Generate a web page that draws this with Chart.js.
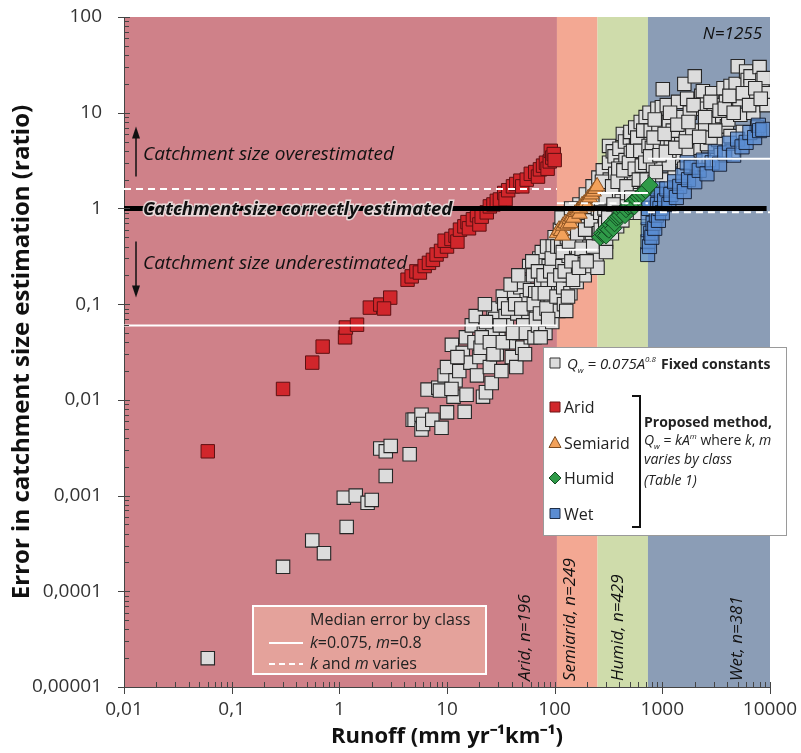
<!DOCTYPE html>
<html>
<head>
<meta charset="utf-8">
<script src="https://cdn.jsdelivr.net/npm/chart.js@4.4.0/dist/chart.umd.min.js"></script>
<style>
html, body { margin: 0; padding: 0; background: #fff; }
#wrap { width: 801px; height: 753px; }
</style>
</head>
<body>
<div id="wrap"><canvas id="runoffChart" width="801" height="753"></canvas></div>
<script>
// axis ticks
const xTickValues = [0.01, 0.1, 1, 10, 100, 1000, 10000];
const xTickLabels = ['0,01', '0,1', '1', '10', '100', '1000', '10000'];
const yTickValues = [0.00001, 0.0001, 0.001, 0.01, 0.1, 1, 10, 100];
const yTickLabels = ['0,00001', '0,0001', '0,001', '0,01', '0,1', '1', '10', '100'];

// climate classes (runoff limits) and median errors per class
const classNames = ['Arid', 'Semiarid', 'Humid', 'Wet'];
const classCounts = [196, 249, 429, 381];
const classBounds = [0.01, 105, 250, 735, 10000];
const medianFixed = [0.06, 0.37, 1.45, 3.3];
const medianVaried = [1.6, 1.13, 1.13, 0.91];

// Qw = 0.075A^0.8, fixed constants  [runoff, error ratio]
const fixedPoints = [
  [0.06,0.00002],[0.3,0.00018],[0.56,0.00034],[0.72,0.00025],[1.17,0.00047],[1.1,0.00095],[1.42,0.001],
  [1.83,0.00084],[2.0,0.0009],[2.7,0.0016],[2.4,0.0031],[2.7,0.0029],[3.0,0.0033],[4.5,0.0027],[4.8,0.0062],
  [5.0,0.0062],[5.8,0.007],[5.8,0.0049],[6.0,0.0056],[6.6,0.0128],[7.3,0.0062],[8.3,0.0134],[8.6,0.0125],
  [8.9,0.0051],[9.5,0.018],
  [10,0.0074],[10,0.022],[11.1,0.0376],[11.5,0.0108],[12,0.016],[13,0.02],[14,0.031],[14.6,0.0075],
  [15.2,0.0113],[16.5,0.0245],[12.5,0.028],[15,0.045],[11,0.013],
  [17,0.06],[18,0.04],[19,0.018],[20,0.028],[21.6,0.0108],[22,0.05],[23,0.012],[24,0.035],[25,0.022],
  [26,0.015],[27,0.09],[28,0.07],[29,0.03],[30,0.045],[18.5,0.075],[22.5,0.1],[26.5,0.055],[20.5,0.035],
  [21,0.045],[23,0.065],[25,0.04],[27,0.03],
  [32,0.02],[33,0.12],[34,0.1],[35,0.075],[36,0.06],[38,0.04],[40,0.028],[42,0.13],[44,0.022],[45,0.08],
  [47,0.05],[48,0.15],[50,0.035],[52,0.17],[53,0.03],[55,0.11],[57,0.07],[58,0.25],[60,0.045],[39,0.16],
  [46,0.2],[51,0.06],[56,0.09],[31,0.06],[33,0.04],[37,0.09],[41,0.05],[43,0.1],[49,0.09],[54,0.05],
  [59,0.14],
  [63,0.2],[65,0.045],[66,0.13],[68,0.09],[70,0.06],[72,0.3],[75,0.18],[76,0.35],[78,0.11],[80,0.075],
  [82,0.05],[85,0.4],[88,0.25],[90,0.15],[92,0.1],[95,0.065],[98,0.13],[100,0.5],[102,0.3],[105,0.2],
  [108,0.085],[62,0.28],[70,0.22],[86,0.16],[96,0.4],[74,0.045],[64,0.1],[67,0.07],[71,0.13],[73,0.08],
  [79,0.2],[81,0.13],[84,0.09],[87,0.07],[91,0.22],[94,0.3],[99,0.18],[104,0.12],[106,0.4],
  [112,0.6],[115,0.4],[118,0.25],[120,0.15],[122,0.1],[125,0.75],[128,0.085],[130,0.5],[135,0.32],
  [138,0.2],[140,0.13],[145,0.9],[150,0.6],[155,0.4],[158,0.26],[160,0.17],[170,1.1],[175,0.75],[180,0.5],
  [185,0.32],[190,0.2],[195,1.4],[200,0.9],[205,0.6],[210,0.4],[215,0.25],[225,1.7],[230,1.1],[235,0.75],
  [240,0.5],[245,0.32],[250,0.24],[255,2.1],[260,1.4],[116,0.8],[142,1.0],[165,0.36],[222,0.55],[248,0.85],
  [133,0.12],[113,0.2],[119,0.35],[124,0.22],[127,0.55],[136,0.45],[143,0.28],[148,0.18],[153,0.7],
  [162,0.55],[168,0.24],[178,0.38],[183,0.9],[192,0.6],[198,0.28],[208,1.0],[218,0.75],[228,0.4],
  [238,1.3],[252,1.0],[258,0.55],
  [265,0.9],[268,0.6],[280,2.5],[285,1.6],[290,1.0],[295,0.7],[300,0.45],[300,0.35],[320,3.0],[320,4.5],
  [325,2.0],[330,1.3],[335,0.85],[340,0.55],[347,3.95],[360,3.5],[365,2.3],[370,1.5],[375,1.0],[380,0.65],
  [400,4.2],[410,2.8],[415,1.8],[420,1.2],[425,0.75],[430,6.0],[450,5.0],[455,3.2],[460,2.1],[470,1.4],
  [475,0.9],[500,5.5],[505,6.3],[510,3.8],[520,2.5],[530,1.6],[540,1.05],[560,7.0],[570,4.5],[580,3.0],
  [590,1.9],[600,1.25],[620,0.9],[630,8.0],[640,5.2],[650,3.4],[660,2.2],[680,1.4],[690,1.6],[700,9.0],
  [710,6.0],[720,3.8],[730,2.5],[270,1.25],[310,1.7],[390,2.6],[445,1.05],[545,2.0],[615,2.8],[670,4.3],
  [740,1.9],[275,1.9],[298,1.3],[315,0.8],[342,1.7],[352,1.1],[385,1.9],[395,0.9],[435,2.5],[465,1.7],
  [490,3.0],[515,1.3],[535,4.0],[555,2.6],[585,5.5],[605,2.0],[625,4.0],[645,2.8],[665,6.5],[695,3.0],
  [715,2.0],[745,4.5],
  [760,10],[780,6.5],[800,4.3],[820,2.8],[850,1.9],[900,11],[920,7],[950,4.6],[980,3.0],[1000,2.0],
  [1010,17.6],[990,11.4],[1100,12],[1150,8],[1200,5.2],[1250,3.4],[1300,2.3],[1400,13],[1450,9],[1500,5.8],
  [1550,3.8],[1600,2.6],[1600,20],[1700,14],[1800,10],[1900,6.5],[2000,4.3],[2000,24],[2100,2.9],[2300,15],
  [2380,16.8],[2400,11],[2500,7],[2600,4.7],[2700,3.2],[2900,16],[3000,12],[3200,7.8],[3300,5.2],[3500,3.6],
  [3600,9.2],[3700,18],[3900,13],[3980,7.2],[4100,8.5],[4300,19],[4300,5.7],[4500,4.0],[4800,20],[5000,14],
  [5020,30.6],[5200,13.8],[5300,9.5],[5600,6.3],[6000,27],[6200,22],[6600,24],[6600,18.9],[6900,14.9],
  [7000,10],[7600,7],[8000,30],[8500,22],[8750,23],[9000,16],[9300,12],[1150,2.9],[1700,4.0],[2800,5.5],
  [850,8.5],[1250,6.5],[770,3.5],[830,5.5],[870,2.4],[940,3.6],[1050,6.0],[1080,3.9],[1180,10],[1320,4.3],
  [1380,7.5],[1650,5.0],[1750,8.0],[1950,12],[2200,5.6],[2500,9.0],[2800,13],[3100,6.5],[3400,10.5],
  [3800,11],[4200,15],[4600,10],[5600,16],[6400,12],[7300,18],[8200,14]
];

// proposed method, k and m by class
const aridPoints = [
  [0.06,0.0029],[0.3,0.013],[0.56,0.0245],[0.7,0.036],[1.13,0.045],[1.15,0.057],[1.46,0.061],[1.92,0.092],
  [2.4,0.099],[2.97,0.117],[2.6,0.09],[4.3,0.18],[4.7,0.195],[5.2,0.22],[5.6,0.214],[6.2,0.25],[6.8,0.27],
  [7.4,0.29],[8,0.33],[8.8,0.36],[10,0.4],[9.5,0.46],[11,0.48],[12,0.52],[12.5,0.45],[13.2,0.6],[14.5,0.65],
  [15.5,0.72],[16,0.62],[17.4,0.77],[19,0.85],[20,0.68],[21,0.82],[23.4,0.91],[25,1.05],[27,1.1],[29,1.2],
  [31,1.24],[34,1.45],[35,1.25],[37,1.55],[41,1.7],[44,1.8],[48,1.95],[50,1.7],[55,2.0],[60,2.3],[66,2.4],
  [70,2.15],[73,2.56],[78,2.8],[83,3.0],[86,2.6],[90,3.1],[92,4.0],[95,3.4],[98,3.7],[100,3.2]
];
const semiaridPoints = [
  [105,0.55],[110,0.6],[115,0.58],[118,0.52],[120,0.66],[126,0.7],[132,0.68],[138,0.78],[140,0.7],
  [145,0.82],[150,0.8],[158,0.92],[165,0.95],[170,0.88],[172,1.0],[180,1.08],[188,1.12],[195,1.15],
  [200,1.05],[205,1.28],[212,1.3],[220,1.4],[230,1.5],[240,1.6],[248,1.7]
];
const humidPoints = [
  [265,0.5],[275,0.55],[285,0.53],[295,0.6],[300,0.52],[305,0.62],[318,0.6],[330,0.68],[345,0.72],
  [350,0.62],[360,0.7],[375,0.8],[390,0.82],[405,0.85],[420,0.92],[440,0.95],[450,0.85],[460,0.98],
  [480,1.05],[500,1.08],[520,1.12],[545,1.2],[550,1.05],[570,1.25],[600,1.32],[630,1.38],[660,1.45],
  [700,1.55],[760,1.75]
];
const wetPoints = [
  [730,0.33],[735,0.45],[740,0.6],[738,0.8],[745,1.0],[750,1.2],[760,0.4],[780,0.55],[800,0.5],[820,0.7],
  [850,0.62],[880,0.85],[900,1.1],[900,1.6],[920,0.75],[950,1.0],[980,1.4],[1000,0.9],[1050,1.2],
  [1100,1.6],[1150,1.1],[1200,1.4],[1300,1.9],[1350,1.3],[1450,1.7],[1550,2.2],[1600,1.5],[1700,3.0],
  [1750,2.0],[1850,2.7],[2000,1.9],[2200,2.5],[2400,3.2],[2600,2.3],[2900,3.0],[3100,3.9],[3400,2.9],
  [3800,3.8],[4200,4.8],[4600,3.6],[5000,5.3],[5500,4.4],[6000,4.9],[6500,6.2],[7200,5.5],[7800,7.4],
  [8000,6.5],[8570,6.7]
];

const perfectLine = [[0.01, 1], [9300, 1]];

const bandColors = ['#cf8189', '#f3a893', '#cfdcab', '#8b9db6'];
const FONT = "'Open Sans', sans-serif";

function toXY(list) {
    return list.map(p => ({ x: p[0], y: p[1] }));
}

function medianDatasets(values, dashed) {
    return values.map((v, i) => ({
        data: [{ x: classBounds[i], y: v }, { x: classBounds[i + 1], y: v }],
        showLine: true,
        pointRadius: 0,
        borderColor: '#ffffff',
        borderWidth: 2,
        borderDash: dashed ? [7, 5] : [],
        order: 3
    }));
}

function drawMarker(ctx, style, x, y, fill, stroke) {
    ctx.save();
    ctx.fillStyle = fill;
    ctx.strokeStyle = stroke;
    ctx.lineWidth = 1;
    ctx.beginPath();
    if (style === 'triangle') {
        ctx.moveTo(x, y - 6); ctx.lineTo(x + 6, y + 5); ctx.lineTo(x - 6, y + 5); ctx.closePath();
    } else if (style === 'diamond') {
        ctx.moveTo(x, y - 6); ctx.lineTo(x + 6, y); ctx.lineTo(x, y + 6); ctx.lineTo(x - 6, y); ctx.closePath();
    } else {
        ctx.rect(x - 5, y - 5, 10, 10);
    }
    ctx.fill();
    ctx.stroke();
    ctx.restore();
}

// text made of several runs: [text, font, dy]
function drawRich(ctx, x, y, parts) {
    let cx = x;
    parts.forEach(p => {
        ctx.font = p[1];
        ctx.fillText(p[0], cx, y + (p[2] || 0));
        cx += ctx.measureText(p[0]).width;
    });
    return cx;
}

function drawArrow(ctx, x, y0, y1) {
    const dir = y1 < y0 ? -1 : 1;
    ctx.beginPath();
    ctx.moveTo(x, y0);
    ctx.lineTo(x, y1 - dir * 10);
    ctx.stroke();
    ctx.beginPath();
    ctx.moveTo(x, y1);
    ctx.lineTo(x - 4, y1 - dir * 12);
    ctx.lineTo(x + 4, y1 - dir * 12);
    ctx.closePath();
    ctx.fill();
}

const backdropPlugin = {
    id: 'backdrop',
    beforeDraw(chart) {
        const { ctx, chartArea: a, scales: { x } } = chart;
        ctx.save();
        ctx.fillStyle = '#fff';
        ctx.fillRect(0, 0, chart.width, chart.height);
        for (let i = 0; i < classNames.length; i++) {
            const x0 = x.getPixelForValue(classBounds[i]);
            const x1 = x.getPixelForValue(classBounds[i + 1]);
            ctx.fillStyle = bandColors[i];
            ctx.fillRect(x0, a.top, x1 - x0, a.bottom - a.top);
        }
        ctx.restore();
    },
    afterDraw(chart) {
        const { ctx, chartArea: a, scales: { x, y } } = chart;
        ctx.save();

        // minor and major ticks
        ctx.strokeStyle = '#444';
        ctx.lineWidth = 1;
        ctx.beginPath();
        for (let d = -2; d <= 4; d++) {
            const px = Math.round(x.getPixelForValue(Math.pow(10, d))) + 0.5;
            ctx.moveTo(px, a.bottom - 5); ctx.lineTo(px, a.bottom + 7);
            if (d < 4) {
                for (let k = 2; k <= 9; k++) {
                    const mx = Math.round(x.getPixelForValue(k * Math.pow(10, d))) + 0.5;
                    ctx.moveTo(mx, a.bottom - 5); ctx.lineTo(mx, a.bottom);
                }
            }
        }
        for (let d = -5; d <= 2; d++) {
            const py = Math.round(y.getPixelForValue(Math.pow(10, d))) + 0.5;
            ctx.moveTo(a.left - 6, py); ctx.lineTo(a.left + 6, py);
            if (d < 2) {
                for (let k = 2; k <= 9; k++) {
                    const my = Math.round(y.getPixelForValue(k * Math.pow(10, d))) + 0.5;
                    ctx.moveTo(a.left, my); ctx.lineTo(a.left + 5, my);
                }
            }
        }
        ctx.stroke();

        // over / under estimation notes
        const noteX = a.left + 19;
        const y1 = y.getPixelForValue(1);
        ctx.fillStyle = '#111';
        ctx.strokeStyle = '#111';
        ctx.lineWidth = 1.5;
        drawArrow(ctx, a.left + 12, y1 - 32, y1 - 82);
        drawArrow(ctx, a.left + 12, y1 + 33, y1 + 89);
        ctx.font = 'italic 19px ' + FONT;
        ctx.textBaseline = 'alphabetic';
        ctx.fillText('Catchment size overestimated', noteX, y1 - 48);
        ctx.fillText('Catchment size underestimated', noteX, y1 + 61);
        ctx.font = 'italic bold 18.5px ' + FONT;
        ctx.lineWidth = 3;
        ctx.strokeStyle = 'rgba(235,225,225,0.9)';
        ctx.strokeText('Catchment size correctly estimated', noteX, y1 + 7);
        ctx.fillText('Catchment size correctly estimated', noteX, y1 + 7);

        // sample size
        ctx.font = 'italic 17px ' + FONT;
        ctx.textAlign = 'right';
        ctx.fillText('N=1255', a.right - 8, a.top + 22);

        // class labels, rotated
        ctx.font = 'italic 17px ' + FONT;
        ctx.textAlign = 'left';
        ctx.textBaseline = 'middle';
        const labelAt = [53, 138, 390, 5000];
        classNames.forEach((name, i) => {
            ctx.save();
            ctx.translate(x.getPixelForValue(labelAt[i]), a.bottom - 6);
            ctx.rotate(-Math.PI / 2);
            ctx.fillText(name + ', n=' + classCounts[i], 0, 0);
            ctx.restore();
        });

        // series legend
        const lx = 543, ly = 347, lw = 243, lh = 188;
        ctx.fillStyle = '#ffffff';
        ctx.fillRect(lx, ly, lw, lh);
        ctx.strokeStyle = '#9a9a9a';
        ctx.lineWidth = 1;
        ctx.strokeRect(lx + 0.5, ly + 0.5, lw, lh);
        ctx.textBaseline = 'alphabetic';
        ctx.fillStyle = '#222';
        drawMarker(ctx, 'rect', lx + 12, ly + 16, '#dcdcdc', '#333');
        let cx = drawRich(ctx, lx + 24, ly + 22, [
            ['Q', 'italic 15px ' + FONT], ['w', 'italic 8px ' + FONT, 4],
            [' = 0.075A', 'italic 15px ' + FONT], ['0.8', 'italic 8px ' + FONT, -7]
        ]);
        drawRich(ctx, cx + 5, ly + 22, [['Fixed constants', 'bold 14px ' + FONT]]);

        const rows = [
            ['Arid', 'rect', '#d1262b', '#6e1416'],
            ['Semiarid', 'triangle', '#f2a15a', '#7a4a20'],
            ['Humid', 'diamond', '#2f9a48', '#124a22'],
            ['Wet', 'rect', '#5a8cd2', '#1e2d46']
        ];
        rows.forEach((r, i) => {
            const ry = ly + 60 + i * 35.5;
            drawMarker(ctx, r[1], lx + 12, ry, r[2], r[3]);
            ctx.fillStyle = '#222';
            ctx.font = '16px ' + FONT;
            ctx.fillText(r[0], lx + 21, ry + 6);
        });
        // bracket
        ctx.strokeStyle = '#111';
        ctx.lineWidth = 2;
        ctx.beginPath();
        ctx.moveTo(lx + 89, ly + 49); ctx.lineTo(lx + 97, ly + 49);
        ctx.lineTo(lx + 97, ly + 180); ctx.lineTo(lx + 89, ly + 180);
        ctx.stroke();
        ctx.fillStyle = '#222';
        drawRich(ctx, lx + 101, ly + 80, [['Proposed method,', 'bold 14px ' + FONT]]);
        drawRich(ctx, lx + 101, ly + 98, [
            ['Q', 'italic 14px ' + FONT], ['w', 'italic 8px ' + FONT, 4],
            [' = ', '14px ' + FONT], ['kA', 'italic 14px ' + FONT], ['m', 'italic 8px ' + FONT, -6],
            [' where ', '14px ' + FONT], ['k', 'italic 14px ' + FONT], [', ', '14px ' + FONT],
            ['m', 'italic 14px ' + FONT]
        ]);
        drawRich(ctx, lx + 101, ly + 117, [['varies by class', 'italic 14px ' + FONT]]);
        drawRich(ctx, lx + 101, ly + 138, [['(Table 1)', 'italic 14px ' + FONT]]);

        // median legend
        const mx = 253, my = 606, mw = 233, mh = 68;
        ctx.fillStyle = 'rgba(232,170,160,0.8)';
        ctx.fillRect(mx, my, mw, mh);
        ctx.strokeStyle = '#ffffff';
        ctx.lineWidth = 2;
        ctx.strokeRect(mx, my, mw, mh);
        ctx.fillStyle = '#222';
        drawRich(ctx, mx + 57, my + 19, [['Median error by class', '16px ' + FONT]]);
        ctx.beginPath();
        ctx.moveTo(mx + 16, my + 37); ctx.lineTo(mx + 50, my + 37);
        ctx.stroke();
        ctx.setLineDash([6, 4]);
        ctx.beginPath();
        ctx.moveTo(mx + 16, my + 58); ctx.lineTo(mx + 50, my + 58);
        ctx.stroke();
        ctx.setLineDash([]);
        drawRich(ctx, mx + 57, my + 42, [
            ['k', 'italic 16px ' + FONT], ['=0.075, ', '16px ' + FONT], ['m', 'italic 16px ' + FONT],
            ['=0.8', '16px ' + FONT]
        ]);
        drawRich(ctx, mx + 57, my + 63, [
            ['k', 'italic 16px ' + FONT], [' and ', '16px ' + FONT], ['m', 'italic 16px ' + FONT],
            [' varies', '16px ' + FONT]
        ]);
        ctx.restore();
    }
};

Chart.defaults.font.family = FONT;

const datasets = [
    {
        label: 'Catchment size correctly estimated',
        data: toXY(perfectLine),
        showLine: true, pointRadius: 0,
        borderColor: '#000', borderWidth: 5,
        order: 1
    },
    ...medianDatasets(medianFixed, false),
    ...medianDatasets(medianVaried, true),
    {
        label: 'Humid', data: toXY(humidPoints),
        pointStyle: 'rectRot', pointRadius: 8.5,
        backgroundColor: '#2f9a48', borderColor: '#124a22', borderWidth: 1,
        order: 5
    },
    {
        label: 'Semiarid', data: toXY(semiaridPoints),
        pointStyle: 'triangle', pointRadius: 9,
        backgroundColor: '#f2a15a', borderColor: '#8a5222', borderWidth: 1,
        order: 6
    },
    {
        label: 'Arid', data: toXY(aridPoints),
        pointStyle: 'rect', pointRadius: 9.5,
        backgroundColor: '#d1262b', borderColor: '#5e1012', borderWidth: 1,
        order: 7
    },
    {
        label: 'Wet', data: toXY(wetPoints),
        pointStyle: 'rect', pointRadius: 10,
        backgroundColor: 'rgba(90,140,210,0.75)', borderColor: 'rgba(20,28,45,0.9)', borderWidth: 1,
        order: 8
    },
    {
        label: 'Fixed constants', data: toXY(fixedPoints),
        pointStyle: 'rect', pointRadius: 9.5,
        backgroundColor: '#dcdcdc', borderColor: '#262626', borderWidth: 1.1,
        order: 10
    }
];

new Chart(document.getElementById('runoffChart'), {
    type: 'scatter',
    data: { datasets: datasets },
    options: {
        responsive: false,
        animation: false,
        devicePixelRatio: 1,
        layout: { padding: { top: 17, right: 31, left: 0, bottom: 0 } },
        plugins: { legend: { display: false }, tooltip: { enabled: false } },
        scales: {
            x: {
                type: 'logarithmic',
                min: 0.01, max: 10000,
                grid: { display: true, drawOnChartArea: false, drawTicks: true, tickLength: 11, color: 'rgba(0,0,0,0)' },
                border: { display: true, color: '#444', width: 1 },
                afterBuildTicks: axis => { axis.ticks = xTickValues.map(v => ({ value: v })); },
                afterFit: axis => { axis.height = 66; },
                ticks: {
                    autoSkip: false, maxRotation: 0, padding: 0,
                    color: '#333', font: { size: 19 },
                    callback: v => { const i = xTickValues.indexOf(v); return i < 0 ? '' : xTickLabels[i]; }
                },
                title: {
                    display: true, text: 'Runoff (mm yr⁻¹km⁻¹)',
                    color: '#111', font: { size: 22, weight: 'bold' },
                    padding: { top: 0, bottom: 3 }
                }
            },
            y: {
                type: 'logarithmic',
                min: 0.00001, max: 100,
                grid: { display: true, drawOnChartArea: false, drawTicks: true, tickLength: 22, color: 'rgba(0,0,0,0)' },
                border: { display: true, color: '#444', width: 1 },
                afterBuildTicks: axis => { axis.ticks = yTickValues.map(v => ({ value: v })); },
                afterFit: axis => { axis.width = 124; },
                ticks: {
                    autoSkip: false, padding: 0,
                    color: '#333', font: { size: 19 },
                    callback: v => { const i = yTickValues.indexOf(v); return i < 0 ? '' : yTickLabels[i]; }
                },
                title: {
                    display: true, text: 'Error in catchment size estimation (ratio)',
                    color: '#111', font: { size: 24, weight: 'bold' },
                    padding: { top: 8, bottom: 0 }
                }
            }
        }
    },
    plugins: [backdropPlugin]
});
</script>
</body>
</html>
